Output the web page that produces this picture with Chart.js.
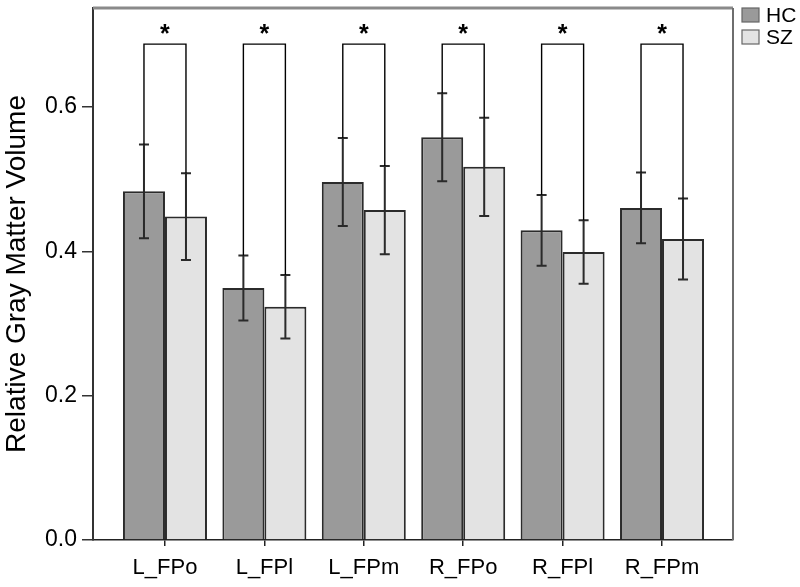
<!DOCTYPE html>
<html>
<head>
<meta charset="utf-8">
<script src="https://cdn.jsdelivr.net/npm/chart.js@4/dist/chart.umd.min.js"></script>
<style>
  html, body { margin: 0; padding: 0; background: #fff; }
  #wrap { width: 800px; height: 587px; }
</style>
</head>
<body>
<div id="wrap"><canvas id="chart" width="800" height="587"></canvas></div>
<script>
const categories = ['L_FPo', 'L_FPl', 'L_FPm', 'R_FPo', 'R_FPl', 'R_FPm'];
const hcValues = [0.483, 0.349, 0.496, 0.558, 0.429, 0.460];
const hcErrors = [0.065, 0.045, 0.061, 0.061, 0.049, 0.049];
const szValues = [0.448, 0.323, 0.457, 0.517, 0.399, 0.417];
const szErrors = [0.060, 0.044, 0.061, 0.068, 0.044, 0.056];
const yTicks = [0.0, 0.2, 0.4, 0.6];
const bracketLevel = 0.687;
const starLevel = 0.705;

const FONT = "'Liberation Sans', Arial, sans-serif";

// error bars + significance brackets
const errorBars = {
    id: 'errorBars',
    afterDatasetsDraw(chart) {
        const ctx = chart.ctx;
        const y = chart.scales.y;
        const errs = [hcErrors, szErrors];
        const tops = [[], []];
        ctx.save();
        chart.data.datasets.forEach((ds, d) => {
            const meta = chart.getDatasetMeta(d);
            meta.data.forEach((bar, i) => {
                const v = ds.data[i].y;
                const yt = y.getPixelForValue(v + errs[d][i]);
                const yb = y.getPixelForValue(v - errs[d][i]);
                tops[d].push({x: bar.x, y: yt});
                ctx.strokeStyle = '#2a2a2a';
                ctx.lineWidth = 2;
                ctx.beginPath();
                ctx.moveTo(bar.x, yt);
                ctx.lineTo(bar.x, yb);
                ctx.moveTo(bar.x - 5, yt);
                ctx.lineTo(bar.x + 5, yt);
                ctx.moveTo(bar.x - 5, yb);
                ctx.lineTo(bar.x + 5, yb);
                ctx.stroke();
            });
        });
        const by = y.getPixelForValue(bracketLevel);
        const sy = y.getPixelForValue(starLevel);
        ctx.strokeStyle = '#000';
        ctx.lineWidth = 1.4;
        ctx.fillStyle = '#000';
        ctx.font = 'bold 25px ' + FONT;
        ctx.textAlign = 'center';
        ctx.textBaseline = 'middle';
        for (let i = 0; i < categories.length; i++) {
            const a = tops[0][i], b = tops[1][i];
            ctx.beginPath();
            ctx.moveTo(a.x, a.y);
            ctx.lineTo(a.x, by);
            ctx.lineTo(b.x, by);
            ctx.lineTo(b.x, b.y);
            ctx.stroke();
            ctx.fillText('*', (a.x + b.x) / 2, sy + 4);
        }
        ctx.restore();
    }
};

// top/right frame and the legend on the right
const frame = {
    id: 'frame',
    afterDraw(chart) {
        const ctx = chart.ctx;
        const {left, right, top, bottom} = chart.chartArea;
        ctx.save();
        ctx.strokeStyle = '#8a8a8a';
        ctx.lineWidth = 3;
        ctx.beginPath();
        ctx.moveTo(left, top);
        ctx.lineTo(right, top);
        ctx.stroke();
        ctx.strokeStyle = '#6e6e6e';
        ctx.lineWidth = 2;
        ctx.beginPath();
        ctx.moveTo(right, top);
        ctx.lineTo(right, bottom);
        ctx.stroke();

        ctx.font = '21px ' + FONT;
        ctx.textAlign = 'left';
        ctx.textBaseline = 'middle';
        chart.data.datasets.forEach((ds, d) => {
            const bx = right + 9;
            const by = top + d * 22;
            ctx.fillStyle = ds.backgroundColor;
            ctx.fillRect(bx, by, 17, 14);
            ctx.strokeStyle = '#666';
            ctx.lineWidth = 1.2;
            ctx.strokeRect(bx, by, 17, 14);
            ctx.fillStyle = '#000';
            ctx.fillText(ds.label, bx + 24, by + 8);
        });
        ctx.restore();
    }
};

new Chart(document.getElementById('chart').getContext('2d'), {
    type: 'bar',
    data: {
        datasets: [
            {
                label: 'HC',
                data: hcValues.map((v, i) => ({x: i + 1, y: v})),
                backgroundColor: '#9a9a9a',
                borderColor: '#2b2b2b',
                borderWidth: 2
            },
            {
                label: 'SZ',
                data: szValues.map((v, i) => ({x: i + 1, y: v})),
                backgroundColor: '#e3e3e3',
                borderColor: '#2b2b2b',
                borderWidth: 2
            }
        ]
    },
    options: {
        responsive: false,
        animation: false,
        layout: { padding: { top: 8, right: 67, left: 0, bottom: 0 } },
        categoryPercentage: 0.845,
        barPercentage: 1.0,
        scales: {
            x: {
                type: 'linear',
                offset: false,
                min: 0.276,
                max: 6.714,
                afterBuildTicks: scale => { scale.ticks = categories.map((c, i) => ({value: i + 1})); },
                afterFit: scale => { scale.height = 47; scale.paddingLeft = 0; scale.paddingRight = 0; },
                grid: { offset: false, drawOnChartArea: false, drawTicks: true, tickLength: 6, color: '#222', lineWidth: 1.5 },
                border: { display: true, color: '#222', width: 1.5 },
                ticks: {
                    autoSkip: false,
                    maxRotation: 0,
                    padding: 9,
                    color: '#000',
                    font: { family: FONT, size: 22 },
                    callback: v => categories[v - 1]
                }
            },
            y: {
                min: 0,
                max: 0.737,
                afterBuildTicks: scale => { scale.ticks = yTicks.map(v => ({value: v})); },
                afterFit: scale => { scale.width = 93; scale.paddingTop = 0; scale.paddingBottom = 0; },
                grid: { drawOnChartArea: false, drawTicks: true, tickLength: 11, color: '#333', lineWidth: 1.5 },
                border: { display: true, color: '#333', width: 2 },
                ticks: {
                    padding: 5,
                    color: '#000',
                    font: { family: FONT, size: 23 },
                    callback: v => v.toFixed(1)
                },
                title: {
                    display: true,
                    text: 'Relative Gray Matter Volume',
                    color: '#000',
                    font: { family: FONT, size: 28 },
                    padding: { top: 0, bottom: 0 }
                }
            }
        },
        plugins: {
            legend: { display: false },
            tooltip: { enabled: false }
        }
    },
    plugins: [errorBars, frame]
});
</script>
</body>
</html>
